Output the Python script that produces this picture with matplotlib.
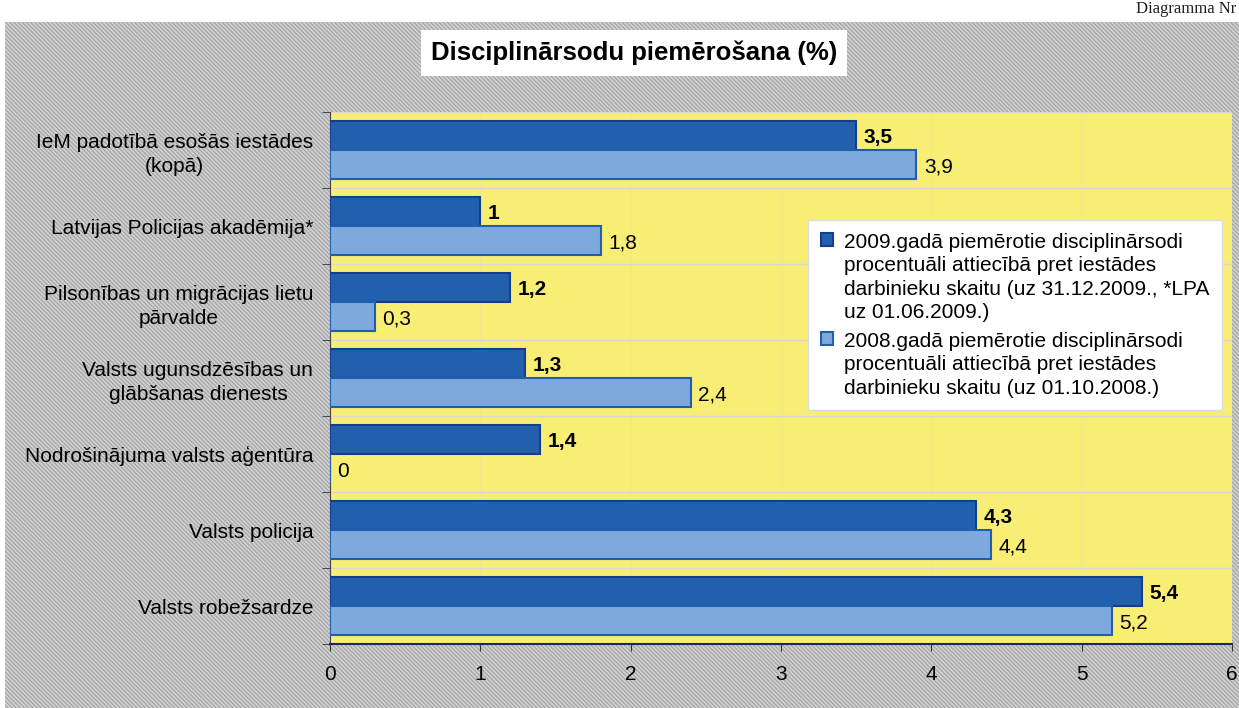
import numpy as np
import matplotlib.pyplot as plt
from matplotlib.patches import Rectangle

plt.rcParams["font.family"] = ["Liberation Sans", "DejaVu Sans"]
plt.rcParams["hatch.linewidth"] = 0.8

categories = [
    "IeM padotībā esošās iestādes\n(kopā)",
    "Latvijas Policijas akadēmija*",
    "Pilsonības un migrācijas lietu\npārvalde",
    "Valsts ugunsdzēsības un\nglābšanas dienests",
    "Nodrošinājuma valsts aģentūra",
    "Valsts policija",
    "Valsts robežsardze",
]
values_2009 = [3.5, 1.0, 1.2, 1.3, 1.4, 4.3, 5.4]
values_2008 = [3.9, 1.8, 0.3, 2.4, 0.0, 4.4, 5.2]
labels_2009 = ["3,5", "1", "1,2", "1,3", "1,4", "4,3", "5,4"]
labels_2008 = ["3,9", "1,8", "0,3", "2,4", "0", "4,4", "5,2"]
legend_2009 = ("2009.gadā piemērotie disciplinārsodi\nprocentuāli attiecībā pret iestādes\n"
               "darbinieku skaitu (uz 31.12.2009., *LPA\nuz 01.06.2009.)")
legend_2008 = ("2008.gadā piemērotie disciplinārsodi\nprocentuāli attiecībā pret iestādes\n"
               "darbinieku skaitu (uz 01.10.2008.)")
title = "Disciplinārsodu piemērošana (%)"

W, H = 1239, 708
FS = 15
fig = plt.figure(figsize=(W / 100, H / 100), dpi=100)
fig.patch.set_facecolor("white")

# hatched grey background
bg = Rectangle((5 / W, 0), 1 - 5 / W, (H - 22) / H, transform=fig.transFigure,
               facecolor="#d0d0d0", edgecolor="#a2a2a2", hatch="\\\\\\\\\\\\\\\\", lw=0, zorder=-10)
fig.patches.append(bg)
fig.text(1236 / W, 1 - 1 / H, "Diagramma Nr", fontsize=12, family="Liberation Serif",
         ha="right", va="top", color="#222222")

ax = fig.add_axes([330 / W, 64 / H, 902 / W, 532 / H])
ax.set_facecolor("#f8ee76")

y = np.arange(len(categories))
h = 0.38
ax.barh(y - h / 2, values_2009, height=h, color="#2260ae", edgecolor="#123f8c", lw=1.5,
        label=legend_2009, zorder=3)
ax.barh(y + h / 2, values_2008, height=h, color="#7ea9dd", edgecolor="#1f5fae", lw=1.5,
        label=legend_2008, zorder=3)

for yi, v, t in zip(y, values_2009, labels_2009):
    ax.text(v + 0.05, yi - h / 2 + 0.02, t, fontsize=FS, fontweight="bold", va="center", ha="left", zorder=4)
for yi, v, t in zip(y, values_2008, labels_2008):
    ax.text(v + 0.05, yi + h / 2 + 0.04, t, fontsize=FS, va="center", ha="left", zorder=4)

ax.set_xlim(0, 6)
ax.set_ylim(len(categories) - 0.5, -0.5)
ax.set_xticks(range(7))
ax.set_xticklabels([str(i) for i in range(7)], fontsize=FS)
ax.set_yticks(y)
ax.set_yticklabels(categories, fontsize=FS, multialignment="center", linespacing=1.35)
ax.tick_params(axis="y", length=0, pad=12)
ax.tick_params(axis="x", length=5, pad=10, color="#333333")
ax.set_yticks(np.arange(-0.5, len(categories), 1), minor=True)
ax.tick_params(axis="y", which="minor", length=6, color="#333333")
ax.grid(axis="y", which="minor", color="#d8d8d8", lw=1, zorder=1)
ax.grid(axis="x", which="major", color="#f1e88a", lw=1, zorder=1)
for s in ["top", "right"]:
    ax.spines[s].set_visible(False)
ax.spines["left"].set_color("#444444")
ax.spines["bottom"].set_color("#222266")
ax.spines["bottom"].set_linewidth(1.5)

leg = ax.legend(loc="upper left", bbox_to_anchor=(468 / 902, (644 - 210) / 532), fontsize=FS,
                frameon=True, fancybox=False, borderpad=0.6, handlelength=0.6, handleheight=0.6,
                handletextpad=0.5, labelspacing=0.45)
for t in leg.get_texts():
    t.set_linespacing(1.3)
# put the colour squares next to the first line of each entry
for col in leg._legend_handle_box.get_children():
    for row in col.get_children():
        row.align = "top"
leg.get_frame().set_facecolor("white")
leg.get_frame().set_edgecolor("#dddddd")
leg.get_frame().set_alpha(1)

fig.text(634 / W, 1 - 53 / H, title, fontsize=18.5, fontweight="bold", ha="center", va="center",
         bbox=dict(facecolor="white", edgecolor="none", boxstyle="square,pad=0.4"))

fig.savefig("out.png", dpi=100, facecolor=fig.get_facecolor())
